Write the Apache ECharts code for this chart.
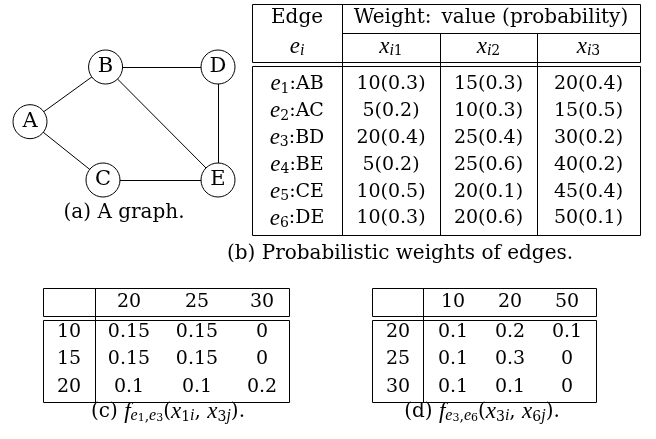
<!DOCTYPE html>
<html>
<head>
<meta charset="utf-8">
<script src="https://cdn.jsdelivr.net/npm/echarts@6/dist/echarts.min.js"></script>
<style>
html,body{margin:0;padding:0;background:#fff;}
#main{width:656px;height:439px;}
</style>
</head>
<body>
<div id="main"></div>
<script>
// ---------- data ----------
const nodeNames = ['A', 'B', 'C', 'D', 'E'];
const nodeX = [0, 2.05, 1.98, 5.1, 5.1];
const nodeY = [0, 1.5, -1.6, 1.5, -1.6];
const graphEdges = [['A', 'B'], ['A', 'C'], ['B', 'D'], ['B', 'E'], ['C', 'E'], ['D', 'E']];

const edgeNames = ['AB', 'AC', 'BD', 'BE', 'CE', 'DE'];
const weightValues = [[10, 15, 20], [5, 10, 15], [20, 25, 30], [5, 25, 40], [10, 20, 45], [10, 20, 50]];
const weightProbs = [[0.3, 0.3, 0.4], [0.2, 0.3, 0.5], [0.4, 0.4, 0.2], [0.2, 0.6, 0.2], [0.5, 0.1, 0.4], [0.3, 0.6, 0.1]];

const cRowLabels = [10, 15, 20];
const cColLabels = [20, 25, 30];
const cValues = [[0.15, 0.15, 0], [0.15, 0.15, 0], [0.1, 0.1, 0.2]];

const dRowLabels = [20, 25, 30];
const dColLabels = [10, 20, 50];
const dValues = [[0.1, 0.2, 0.1], [0.1, 0.3, 0], [0.1, 0.1, 0]];

// ---------- styles ----------
const SERIF = "'DejaVu Serif', serif";
const ITAL = "'Liberation Serif', 'DejaVu Serif', serif";
const FS = 19;
const RICH = {
  n: { fontFamily: SERIF, fontSize: FS, lineHeight: 24, verticalAlign: 'middle' },
  h: { fontFamily: SERIF, fontSize: 20, lineHeight: 24, verticalAlign: 'middle' },
  it: { fontFamily: ITAL, fontSize: 23, fontStyle: 'italic', lineHeight: 24, verticalAlign: 'middle' },
  s: { fontFamily: SERIF, fontSize: 14, lineHeight: 14, verticalAlign: 'bottom' },
  si: { fontFamily: ITAL, fontSize: 16, fontStyle: 'italic', lineHeight: 14, verticalAlign: 'bottom' },
  ss: { fontFamily: SERIF, fontSize: 11, lineHeight: 7, verticalAlign: 'bottom' }
};

function axisPair(gridIndex, xmin, xmax, ymin, ymax, inverse) {
  return {
    x: { type: 'value', gridIndex, min: xmin, max: xmax, show: false },
    y: { type: 'value', gridIndex, min: ymin, max: ymax, show: false, inverse }
  };
}

function textSeries(gridIdx, cells) {
  return {
    type: 'custom', coordinateSystem: 'cartesian2d', xAxisIndex: gridIdx, yAxisIndex: gridIdx,
    silent: true, animation: false, clip: false,
    data: cells.map(c => [c.x, c.y]),
    renderItem(params, api) {
      const c = cells[params.dataIndex];
      const p = api.coord([c.x, c.y]);
      return {
        type: 'text', x: p[0], y: p[1],
        style: { text: c.text, rich: RICH, fontFamily: SERIF, fontSize: FS, fill: '#000', align: 'center', verticalAlign: 'middle' }
      };
    }
  };
}

function lineSeries(gridIdx, segs) {
  return {
    type: 'custom', coordinateSystem: 'cartesian2d', xAxisIndex: gridIdx, yAxisIndex: gridIdx,
    silent: true, animation: false, clip: false,
    data: [[0, 0]],
    renderItem(params, api) {
      const snap = v => Math.round(v) + 0.5;
      return {
        type: 'group',
        children: segs.map(s => {
          const a = api.coord([s[0], s[1]]);
          const b = api.coord([s[2], s[3]]);
          return {
            type: 'line',
            shape: { x1: snap(a[0]), y1: snap(a[1]), x2: snap(b[0]), y2: snap(b[1]) },
            style: { stroke: '#000', lineWidth: 1 }
          };
        })
      };
    }
  };
}

// ---------- table (b) layout ----------
const bW = 388, bH = 231;
const bColBounds = [0, 90, 188, 285, 388];
const bColC = [45, 139, 236.5, 336.5];
const bCells = [];
bCells.push({ x: bColC[0], y: 13.5, text: '{h|Edge}' });
bCells.push({ x: 239, y: 13.5, text: '{h|Weight:\u2002value (probability)}' });
bCells.push({ x: bColC[0], y: 42.5, text: '{it|e}{si|i}' });
for (let j = 0; j < 3; j++) bCells.push({ x: bColC[j + 1], y: 42.5, text: '{it|x}{si|i}{s|' + (j + 1) + '}' });
edgeNames.forEach((nm, i) => {
  const yy = 80 + 26.9 * i;
  bCells.push({ x: bColC[0], y: yy, text: '{it|e}{s|' + (i + 1) + '}{n|:' + nm + '}' });
  for (let j = 0; j < 3; j++) {
    bCells.push({ x: bColC[j + 1], y: yy, text: weightValues[i][j] + '(' + weightProbs[i][j].toFixed(1) + ')' });
  }
});
const bSegs = [
  [0, 0, bW, 0], [90, 29, bW, 29], [0, 58, bW, 58], [0, 62, bW, 62], [0, bH, bW, bH],
  [0, 0, 0, 58], [0, 62, 0, bH], [bW, 0, bW, 58], [bW, 62, bW, bH],
  [bColBounds[1], 0, bColBounds[1], bH], [bColBounds[2], 29, bColBounds[2], bH], [bColBounds[3], 29, bColBounds[3], bH]
];

// ---------- tables (c), (d) layout ----------
function smallTable(W, stubW, stubC, colC, rowLabels, colLabels, vals) {
  const H = 114;
  const cells = [];
  colLabels.forEach((c, j) => cells.push({ x: colC[j], y: 14, text: String(c) }));
  const rowY = [44, 71.5, 99];
  rowLabels.forEach((r, i) => {
    cells.push({ x: stubC, y: rowY[i], text: String(r) });
    vals[i].forEach((v, j) => cells.push({ x: colC[j], y: rowY[i], text: String(v) }));
  });
  const segs = [
    [0, 0, W, 0], [0, 28, W, 28], [0, 32, W, 32], [0, H, W, H],
    [0, 0, 0, 28], [0, 32, 0, H], [W, 0, W, 28], [W, 32, W, H],
    [stubW, 0, stubW, H]
  ];
  return { cells, segs, H };
}
const tc = smallTable(246, 52, 26, [86, 154, 219], cRowLabels, cColLabels, cValues);
const td = smallTable(224, 51, 26, [81, 138, 195], dRowLabels, dColLabels, dValues);

// ---------- axes ----------
const ax0 = axisPair(0, 0, 5.1, -1.6, 1.5, false);
const ax1 = axisPair(1, 0, bW, 0, bH, true);
const ax2 = axisPair(2, 0, 246, 0, 114, true);
const ax3 = axisPair(3, 0, 224, 0, 114, true);

const capStyle = { rich: RICH, fontFamily: SERIF, fontSize: 20, fill: '#000', align: 'center', verticalAlign: 'middle' };

const option = {
  backgroundColor: '#fff',
  animation: false,
  grid: [
    { left: 30, top: 67, width: 188, height: 113 },
    { left: 252, top: 4, width: bW, height: bH },
    { left: 43, top: 288, width: 246, height: 114 },
    { left: 372, top: 288, width: 224, height: 114 }
  ],
  xAxis: [ax0.x, ax1.x, ax2.x, ax3.x],
  yAxis: [ax0.y, ax1.y, ax2.y, ax3.y],
  graphic: [
    { type: 'text', x: 124, y: 213, style: Object.assign({ text: '{h|(a) A graph.}' }, capStyle) },
    { type: 'text', x: 400, y: 254, style: Object.assign({ text: '{h|(b) Probabilistic weights of edges.}' }, capStyle) },
    { type: 'text', x: 168, y: 412, style: Object.assign({ text: '{h|(c) }{it|f}{si|e}{ss|1}{s|,}{si|e}{ss|3}{h|(}{it|x}{s|1}{si|i}{h|, }{it|x}{s|3}{si|j}{h|).}' }, capStyle) },
    { type: 'text', x: 482, y: 412, style: Object.assign({ text: '{h|(d) }{it|f}{si|e}{ss|3}{s|,}{si|e}{ss|6}{h|(}{it|x}{s|3}{si|i}{h|, }{it|x}{s|6}{si|j}{h|).}' }, capStyle) }
  ],
  series: [
    {
      type: 'graph', coordinateSystem: 'cartesian2d', xAxisIndex: 0, yAxisIndex: 0,
      silent: true, animation: false,
      symbol: 'circle', symbolSize: 34,
      itemStyle: { color: '#fff', borderColor: '#000', borderWidth: 1 },
      label: { show: true, position: 'inside', color: '#000', fontFamily: SERIF, fontSize: 21 },
      lineStyle: { color: '#000', width: 1, opacity: 1, curveness: 0 },
      emphasis: { disabled: true },
      data: nodeNames.map((n, i) => ({ name: n, value: [nodeX[i], nodeY[i]] })),
      links: graphEdges.map(e => ({ source: e[0], target: e[1] }))
    },
    lineSeries(1, bSegs),
    textSeries(1, bCells),
    lineSeries(2, tc.segs),
    textSeries(2, tc.cells),
    lineSeries(3, td.segs),
    textSeries(3, td.cells)
  ]
};

const chart = echarts.init(document.getElementById('main'), null, { renderer: 'canvas' });
chart.setOption(option);
</script>
</body>
</html>
